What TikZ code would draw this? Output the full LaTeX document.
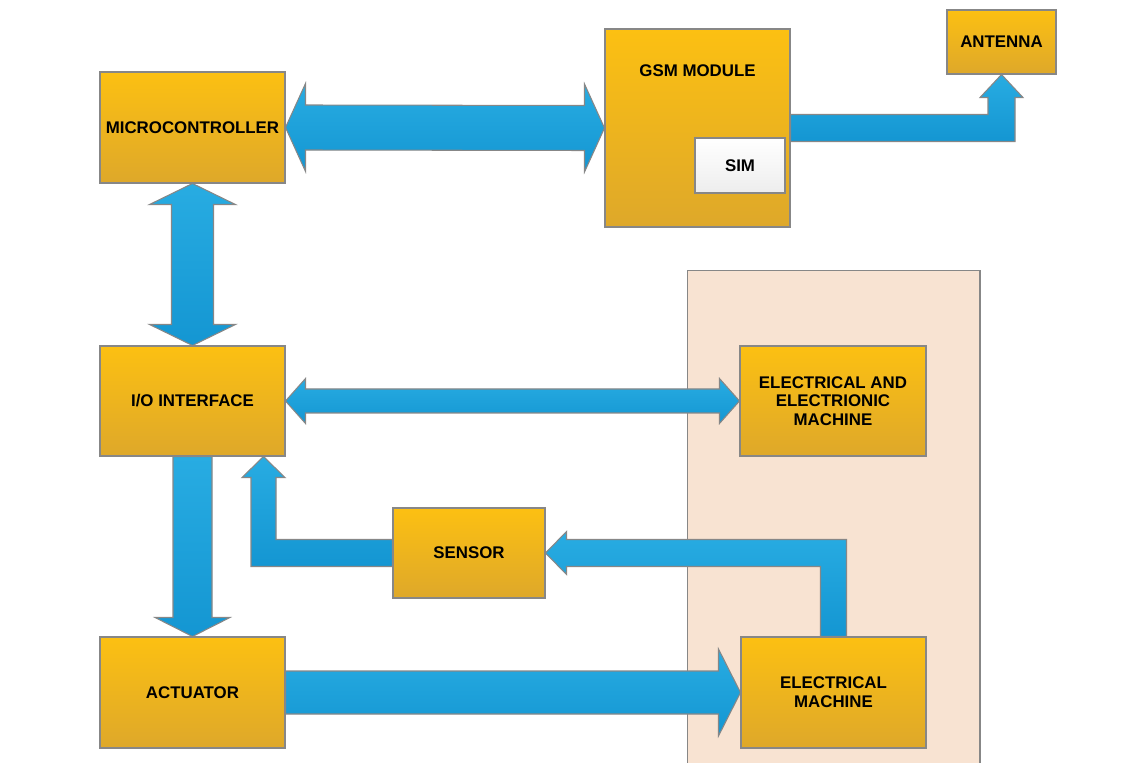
\documentclass[tikz,border=0pt]{standalone}
\usepackage{fontspec}
\setmainfont{Liberation Sans}
\usetikzlibrary{calc,positioning}

\definecolor{boxtop}{RGB}{252,192,18}
\definecolor{boxbot}{RGB}{222,168,42}
\definecolor{boxline}{RGB}{135,135,135}
\definecolor{arrowtop}{RGB}{40,172,226}
\definecolor{arrowbot}{RGB}{20,150,210}
\definecolor{plantfill}{RGB}{248,227,210}

\begin{document}
\begin{tikzpicture}[%
    x=0.02cm, y=-0.02cm,
    text=black,
    node font=\bfseries\fontsize{9.6}{10.6}\selectfont,
    box/.style={draw=boxline, line width=0.6pt, top color=boxtop,
      bottom color=boxbot, align=center, inner sep=0pt,
      minimum width=3.7cm, minimum height=2.22cm},
    bigarrow/.style={draw=boxline, line width=0.6pt, top color=arrowtop,
      bottom color=arrowbot, line join=miter}]

  \useasboundingbox (0,0) rectangle (1143,763);

  % machine side
  \node (plant) at (833.5,535) [draw=boxline, line width=0.6pt,
    fill=plantfill, minimum width=5.86cm, minimum height=10.6cm] {};

  \node (mc) at (192.5,127.5) [box] {MICROCONTROLLER};

  \node (gsm) at (697.5,128) [box, minimum height=3.96cm] {};
  \node (gsmlbl) at ($(gsm.north)+(0,42)$) {GSM MODULE};
  \node (sim) at (740,165.5) [box, top color=white, bottom color=black!7,
    minimum width=1.8cm, minimum height=1.1cm] {SIM};

  \node (ant) at (1001.5,42) [box, minimum width=2.18cm,
    minimum height=1.28cm] {ANTENNA};

  \node (io) at (192.5,401) [box, minimum height=2.2cm] {I/O INTERFACE};
  \node (eem) at (833,401) [box, minimum width=3.72cm, minimum height=2.2cm]
        {ELECTRICAL AND\\ELECTRIONIC\\MACHINE};

  \node (sen) at (469,553) [box, minimum width=3.04cm,
    minimum height=1.8cm] {SENSOR};

  \node (act) at (192.5,692.5) [box] {ACTUATOR};
  \node (em) at (833.5,692.5) [box] {ELECTRICAL\\MACHINE};

  % --- microcontroller <-> gsm ------------------------
  \draw[bigarrow] (mc.east) -- ++(20,-44) -- ++(0,21.5)
     -- ($(gsm.west)+(-20,-22.5)$) -- ++(0,-21.5) -- (gsm.west)
     -- ++(-20,44) -- ++(0,-21.5) -- ($(mc.east)+(20,22.5)$)
     -- ++(0,21.5) -- cycle;

  % gsm -> antenna
  \draw[bigarrow] ($(gsm.east)+(0,-13.5)$)
     -- ($(ant.south |- gsm.east)+(-13.5,-13.5)$)
     -- ($(ant.south)+(-13.5,23)$) -- ++(-8,0) -- (ant.south)
     -- ++(21.5,23) -- ++(-8,0)
     -- ($(ant.south |- gsm.east)+(13.5,13.5)$)
     -- ($(gsm.east)+(0,13.5)$) -- cycle;

  % --- microcontroller <-> i/o ------------------------
  \draw[bigarrow] (mc.south) -- ++(43,21) -- ++(-22,0)
     -- ($(io.north)+(21,-21)$) -- ++(22,0) -- (io.north)
     -- ++(-43,-21) -- ++(22,0) -- ($(mc.south)+(-21,21)$)
     -- ++(-22,0) -- cycle;

  % i/o <-> machine
  \draw[bigarrow] (io.east) -- ++(20,-22.5) -- ++(0,10.5)
     -- ($(eem.west)+(-20,-12)$) -- ++(0,-10.5) -- (eem.west)
     -- ++(-20,22.5) -- ++(0,-10.5) -- ($(io.east)+(20,12)$)
     -- ++(0,10.5) -- cycle;

  % i/o -> actuator
  \draw[bigarrow] ($(io.south)+(-19.5,0)$) -- ($(act.north)+(-19.5,-19)$)
     -- ++(-18,0) -- (act.north) -- ++(37.5,-19) -- ++(-18,0)
     -- ($(io.south)+(19.5,0)$) -- cycle;

  % actuator -> electrical machine
  \draw[bigarrow] ($(act.east)+(0,-21.5)$) -- ($(em.west)+(-22,-21.5)$)
     -- ++(0,-22) -- (em.west) -- ++(-22,43.5) -- ++(0,-22)
     -- ($(act.east)+(0,21.5)$) -- cycle;

  % --- feedback ------------------------
  \draw[bigarrow] ($(em.north)+(13,0)$)
     -- ($(em.north |- sen.east)+(13,-13.5)$)
     -- ($(sen.east)+(21,-13.5)$) -- ++(0,-8) -- (sen.east)
     -- ++(21,21.5) -- ++(0,-8)
     -- ($(em.north |- sen.east)+(-13,13.5)$)
     -- ($(em.north)+(-13,0)$) -- cycle;

  \coordinate (iotip) at ($(io.south east)+(-22,0)$);
  \draw[bigarrow] ($(sen.west)+(0,-13.5)$)
     -- ($(iotip |- sen.west)+(12.5,-13.5)$)
     -- ($(iotip)+(12.5,21)$) -- ++(9,0) -- (iotip)
     -- ++(-21.5,21) -- ++(9,0)
     -- ($(iotip |- sen.west)+(-12.5,13.5)$)
     -- ($(sen.west)+(0,13.5)$) -- cycle;
\end{tikzpicture}
\end{document}
